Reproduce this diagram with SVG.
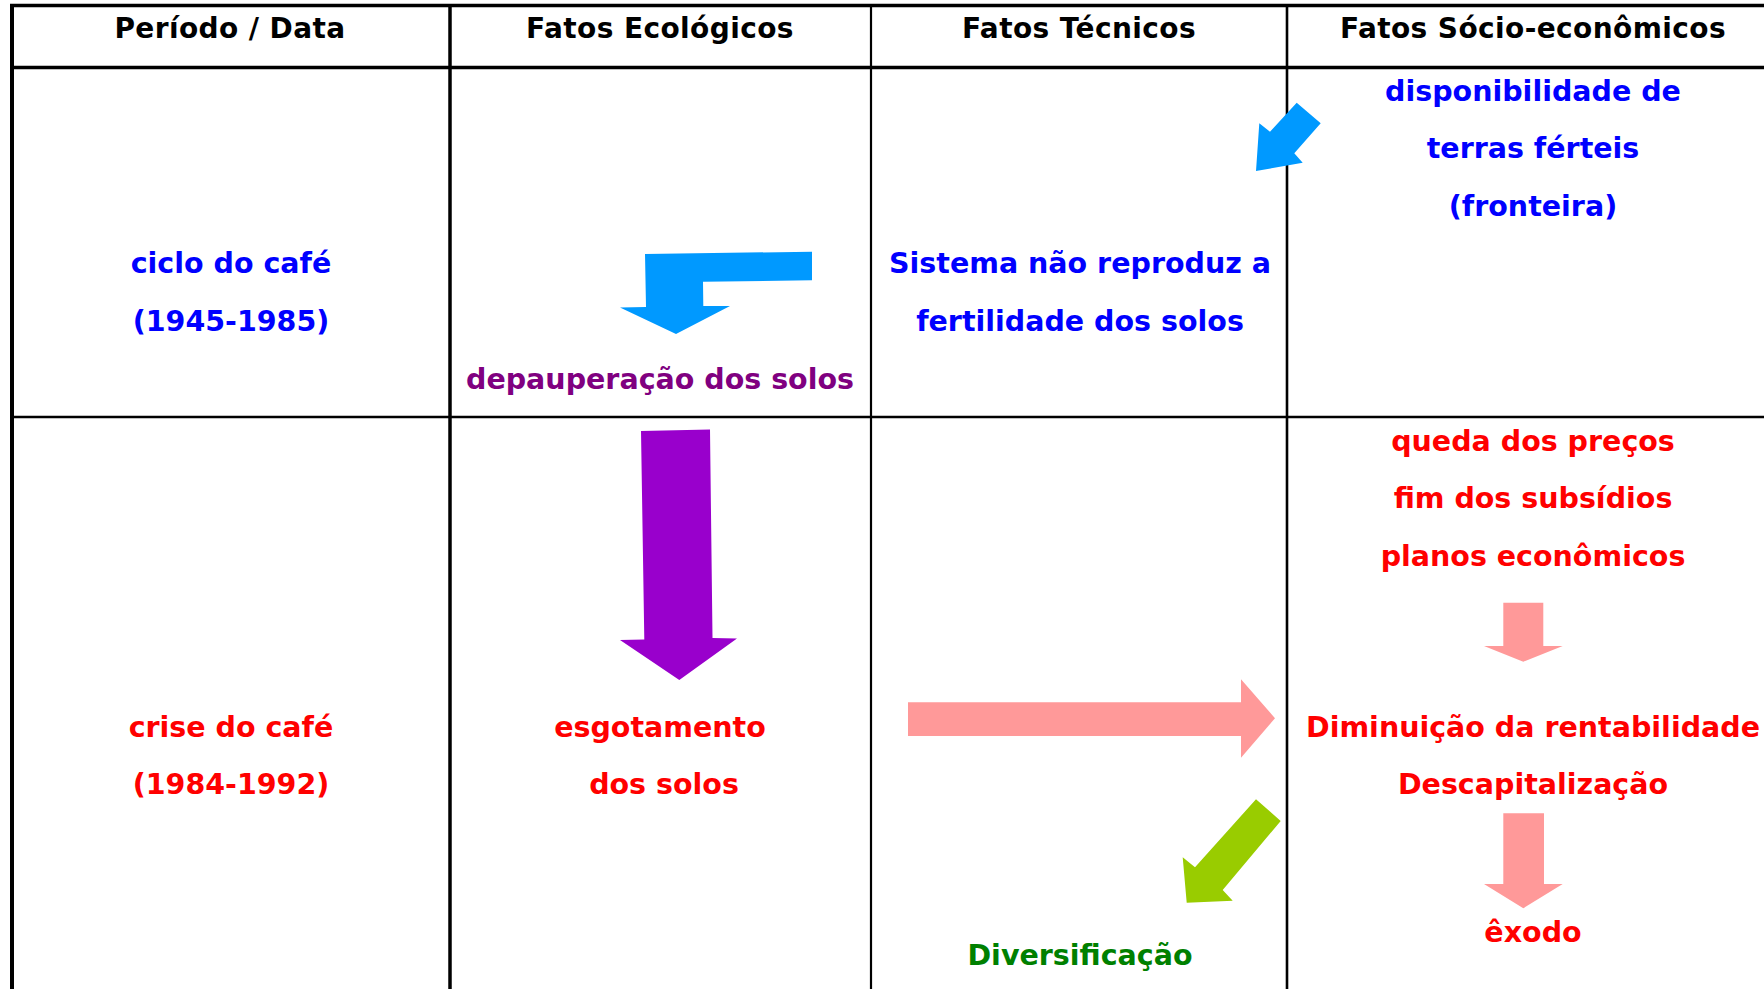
<svg xmlns="http://www.w3.org/2000/svg" width="1764" height="989" viewBox="0 0 1764 989">
<style>
text{font-family:"DejaVu Sans","Liberation Sans",sans-serif;font-weight:bold;text-anchor:middle;font-size:28.5px}
.h{fill:#000;font-size:28px;letter-spacing:0.4px}
.b{fill:#0000FF}
.r{fill:#FF0000}
.p{fill:#800080}
.g{fill:#008000}
.ln{stroke:#000;fill:none}
</style>
<rect width="1764" height="989" fill="#fff"/>
<g id="table">
<line class="ln" x1="10" y1="5.5" x2="1764" y2="5.5" stroke-width="3.5"/>
<line class="ln" x1="10" y1="67.5" x2="1764" y2="67.5" stroke-width="3.5"/>
<line class="ln" x1="12" y1="417" x2="1764" y2="417" stroke-width="2.7"/>
<line class="ln" x1="12" y1="4" x2="12" y2="989" stroke-width="4"/>
<line class="ln" x1="450" y1="4" x2="450" y2="989" stroke-width="3.5"/>
<line class="ln" x1="871" y1="4" x2="871" y2="989" stroke-width="2.2"/>
<line class="ln" x1="1287" y1="4" x2="1287" y2="989" stroke-width="2.6"/>
</g>
<g id="headers">
<text class="h" x="230" y="37.5">Período / Data</text>
<text class="h" x="660" y="37.5">Fatos Ecológicos</text>
<text class="h" x="1079" y="37.5">Fatos Técnicos</text>
<text class="h" x="1533" y="37.5">Fatos Sócio-econômicos</text>
</g>
<g id="ciclo"><text class="b" x="231" y="273">ciclo do café</text><text class="b" x="231" y="330.5">(1945-1985)</text></g>
<g id="depauperacao"><text class="p" x="660" y="388.5">depauperação dos solos</text></g>
<g id="sistema"><text class="b" x="1080" y="273">Sistema não reproduz a</text><text class="b" x="1080" y="330.5">fertilidade dos solos</text></g>
<g id="disponibilidade"><text class="b" x="1533" y="100.7">disponibilidade de</text><text class="b" x="1533" y="158">terras férteis</text><text class="b" x="1533" y="215.5">(fronteira)</text></g>
<g id="crise"><text class="r" x="231" y="736.5">crise do café</text><text class="r" x="231" y="793.8">(1984-1992)</text></g>
<g id="esgotamento"><text class="r" x="660" y="736.5">esgotamento</text><text class="r" x="664" y="793.8">dos solos</text></g>
<g id="queda"><text class="r" x="1533" y="450.7">queda dos preços</text><text class="r" x="1533" y="508">fim dos subsídios</text><text class="r" x="1533" y="566">planos econômicos</text></g>
<g id="diminuicao"><text class="r" x="1533" y="736.5">Diminuição da rentabilidade</text><text class="r" x="1533" y="793.8">Descapitalização</text></g>
<g id="exodo"><text class="r" x="1533" y="941.5">êxodo</text></g>
<g id="diversificacao"><text class="g" x="1080" y="965">Diversificação</text></g>
<g id="connectors">
<polygon fill="#0099FF" points="1296.7,102.7 1320.7,123.3 1294.3,153.3 1302.7,162.7 1256,171 1259.3,123.3 1270,131.7"/>
<polygon fill="#0099FF" points="645,254 812,251.7 812,280.3 703,281.7 703.3,306 730,306 676,334 620,307.5 646,307"/>
<polygon fill="#9900CC" points="641,431 710,429.5 712.5,638 737,638.5 679.3,680 620,640 644.3,639.5"/>
<polygon fill="#FF9999" points="908,702.3 1241,702.3 1241,679.3 1275,718.3 1241,757.7 1241,736 908,736"/>
<polygon fill="#FF9999" points="1503.3,602.7 1543.3,602.7 1543.3,646 1562.7,646 1523.3,661.7 1484,646 1503.3,646"/>
<polygon fill="#FF9999" points="1503.3,813.3 1544,813.3 1544,884 1562.7,884 1523.3,908.3 1484,884 1503.3,884"/>
<polygon fill="#99CC00" points="1256,799.3 1280.7,821 1222.7,890 1232.7,900.7 1186.7,902.7 1182.7,857.3 1195,867.3"/>
</g>
</svg>
